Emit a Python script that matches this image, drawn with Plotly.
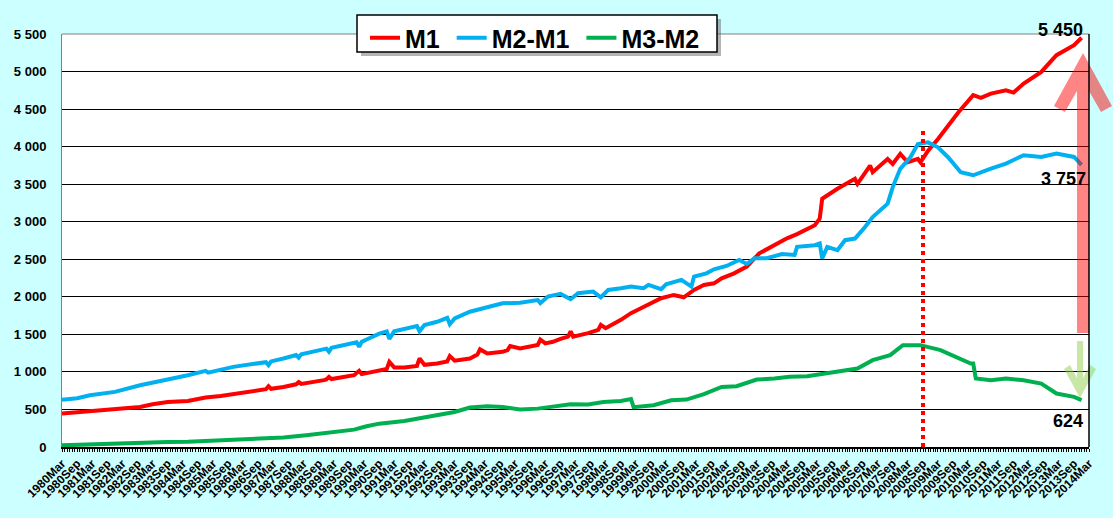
import plotly.graph_objects as go

# money aggregates (bn), values at selected months
m1_dates = ["1980-03", "1980-09", "1981-02", "1981-08", "1981-12", "1982-05", "1982-10",
            "1983-03", "1983-09", "1984-05", "1984-12", "1985-06", "1985-11", "1986-05",
            "1986-10", "1986-12", "1987-01", "1987-02", "1987-07", "1987-12", "1988-01",
            "1988-02", "1988-11", "1988-12", "1989-01", "1989-02", "1989-11", "1990-01",
            "1990-02", "1990-09", "1990-12", "1991-01", "1991-03", "1991-07", "1991-12",
            "1992-01", "1992-03", "1992-08", "1992-12", "1993-01", "1993-03", "1993-09",
            "1993-12", "1994-01", "1994-04", "1994-10", "1994-12", "1995-01", "1995-05",
            "1995-12", "1996-01", "1996-03", "1996-06", "1996-09", "1996-12", "1997-01",
            "1997-02", "1997-08", "1997-12", "1998-01", "1998-03", "1998-09", "1999-01",
            "1999-05", "1999-08", "2000-01", "2000-06", "2000-10", "2001-02", "2001-06",
            "2001-10", "2002-01", "2002-06", "2002-11", "2003-04", "2003-10", "2004-03",
            "2004-07", "2005-02", "2005-04", "2005-05", "2005-11", "2006-06", "2006-07",
            "2006-12", "2007-01", "2007-07", "2007-09", "2007-12", "2008-03", "2008-07",
            "2008-08", "2008-11", "2009-03", "2009-07", "2009-11", "2010-05", "2010-08",
            "2010-12", "2011-06", "2011-09", "2012-01", "2012-08", "2013-02", "2013-09",
            "2013-12"]
m1_values = [445, 462, 480, 490, 498, 512, 534,
             570, 600, 614, 660, 680, 703, 730,
             756, 770, 810, 775, 800, 835, 865,
             840, 890, 900, 934, 905, 956, 1014,
             970, 1020, 1040, 1134, 1060, 1059, 1080,
             1179, 1095, 1112, 1140, 1210, 1150, 1179,
             1230, 1300, 1245, 1268, 1290, 1345, 1312,
             1360, 1430, 1380, 1401, 1440, 1470, 1538,
             1470, 1516, 1560, 1627, 1582, 1693, 1782,
             1848, 1893, 1981, 2025, 1994, 2092, 2158,
             2180, 2247, 2313, 2402, 2579, 2690, 2779,
             2835, 2953, 3042, 3306, 3439, 3571, 3505,
             3748, 3660, 3836, 3770, 3903, 3792, 3836,
             3792, 3947, 4101, 4278, 4455, 4685, 4650,
             4707, 4751, 4720, 4840, 4996, 5218, 5351,
             5450]

m2m1_dates = ["1980-03", "1980-09", "1981-02", "1981-12", "1982-10", "1983-09", "1984-05",
              "1984-12", "1985-01", "1985-11", "1986-10", "1986-12", "1987-01", "1987-02",
              "1987-07", "1987-12", "1988-01", "1988-02", "1988-12", "1989-01", "1989-02",
              "1989-11", "1989-12", "1990-01", "1990-02", "1990-04", "1990-09", "1990-12",
              "1991-01", "1991-03", "1991-07", "1991-12", "1992-01", "1992-03", "1992-08",
              "1992-12", "1993-01", "1993-03", "1993-09", "1994-04", "1994-10", "1995-05",
              "1995-12", "1996-01", "1996-04", "1996-09", "1997-01", "1997-04", "1997-10",
              "1998-01", "1998-04", "1998-09", "1999-01", "1999-06", "1999-08", "2000-01",
              "2000-03", "2000-09", "2001-01", "2001-02", "2001-07", "2001-10", "2002-03",
              "2002-08", "2002-11", "2003-02", "2003-07", "2004-01", "2004-06", "2004-07",
              "2005-02", "2005-04", "2005-05", "2005-07", "2005-11", "2006-02", "2006-06",
              "2006-10", "2007-01", "2007-07", "2007-09", "2007-12", "2008-04", "2008-07",
              "2008-11", "2009-03", "2009-07", "2009-12", "2010-05", "2010-12", "2011-06",
              "2012-01", "2012-08", "2013-02", "2013-09", "2013-12"]
m2m1_values = [630, 650, 690, 734, 823, 898, 956,
               1014, 990, 1067, 1112, 1130, 1090, 1140,
               1179, 1225, 1190, 1235, 1310, 1270, 1320,
               1388, 1395, 1334, 1400, 1432, 1510, 1540,
               1440, 1540, 1566, 1610, 1540, 1624, 1668,
               1720, 1635, 1712, 1801, 1868, 1913, 1922,
               1957, 1915, 2003, 2039, 1968, 2048, 2070,
               1994, 2092, 2114, 2136, 2114, 2158, 2101,
               2167, 2225, 2136, 2269, 2313, 2366, 2411,
               2490, 2437, 2513, 2513, 2570, 2557, 2665,
               2687, 2710, 2511, 2665, 2621, 2754, 2776,
               2930, 3063, 3240, 3461, 3704, 3859, 4035,
               4057, 3991, 3859, 3660, 3619, 3708, 3775,
               3886, 3863, 3908, 3863, 3757]

m3m2_dates = ["1980-03", "1981-02", "1981-12", "1982-10", "1983-09", "1984-05", "1985-01",
              "1985-11", "1986-10", "1987-07", "1988-04", "1989-03", "1989-11", "1990-04",
              "1990-09", "1991-07", "1992-08", "1993-03", "1993-09", "1994-04", "1994-10",
              "1995-05", "1995-12", "1996-06", "1997-01", "1997-08", "1998-02", "1998-09",
              "1999-01", "1999-02", "1999-10", "2000-05", "2000-11", "2001-06", "2002-01",
              "2002-07", "2002-12", "2003-03", "2003-10", "2004-04", "2004-11", "2005-06",
              "2005-12", "2006-07", "2007-01", "2007-08", "2008-01", "2008-08", "2009-04",
              "2009-11", "2010-04", "2010-05", "2010-06", "2010-12", "2011-06", "2012-01",
              "2012-08", "2013-02", "2013-09", "2013-12"]
m3m2_values = [22, 36, 53, 53, 67, 71, 80,
               98, 107, 125, 156, 200, 231, 276,
               311, 347, 423, 467, 525, 543, 534,
               498, 511, 543, 569, 565, 600, 614,
               640, 530, 556, 623, 632, 703, 800,
               809, 858, 898, 912, 934, 943, 978,
               1000, 1045, 1156, 1223, 1356, 1356, 1290,
               1179, 1112, 1112, 912, 890, 912, 890,
               845, 712, 667, 624]

crisis_date = "2008-09"
crisis_top = 4250

FONT = "Arial, Liberation Sans, sans-serif"
W, H = 1113, 518
L, R, T, B = 62, 24, 34, 71


def px(x, y):
    # pixel position -> paper coords (for the decorations)
    return (x - L) / (W - L - R), (H - B - y) / (H - T - B)


def poly(points):
    pts = [px(x, y) for x, y in points]
    return "M " + " L ".join(f"{a:.4f},{b:.4f}" for a, b in pts) + " Z"


fig = go.Figure()
fig.add_trace(go.Scatter(x=m1_dates, y=m1_values, name="M1\u00a0", mode="lines",
                         line=dict(color="#FF0000", width=4)))
fig.add_trace(go.Scatter(x=m2m1_dates, y=m2m1_values, name="M2-M1\u00a0", mode="lines",
                         line=dict(color="#00B0F0", width=4)))
fig.add_trace(go.Scatter(x=m3m2_dates, y=m3m2_values, name="M3-M2", mode="lines",
                         line=dict(color="#00B050", width=4)))

# crisis marker
fig.add_shape(type="line", x0=crisis_date, x1=crisis_date, y0=0, y1=crisis_top,
              xref="x", yref="y", line=dict(color="#FF0000", width=4, dash="dot"))

# big arrows (up for M1, down for M3-M2)
xc = 1083
red_arrow = [(xc, 53), (xc + 29, 106), (xc + 18, 112), (xc + 6, 91), (xc + 6, 333),
             (xc - 6, 333), (xc - 6, 91), (xc - 18, 112), (xc - 29, 106)]
fig.add_shape(type="path", path=poly(red_arrow), xref="paper", yref="paper",
              fillcolor="rgba(255,0,0,0.48)", line=dict(width=0), layer="above")
xg = 1080
green_arrow = [(xg, 398), (xg + 16, 369), (xg + 10, 365), (xg + 3, 378), (xg + 3, 341),
               (xg - 3, 341), (xg - 3, 378), (xg - 10, 365), (xg - 16, 369)]
fig.add_shape(type="path", path=poly(green_arrow), xref="paper", yref="paper",
              fillcolor="rgba(146,208,80,0.5)", line=dict(width=0), layer="above")

# plot frame: grey top, black right
fig.add_shape(type="line", x0=0, x1=1, y0=1, y1=1, xref="paper", yref="paper",
              line=dict(color="#808080", width=1))
fig.add_shape(type="line", x0=1, x1=1, y0=0, y1=1, xref="paper", yref="paper",
              line=dict(color="#000000", width=1.5))

# legend box with drop shadow
bx0, by0 = px(361, 56)
bx1, by1 = px(721, 19)
fig.add_shape(type="rect", x0=bx0, x1=bx1, y0=by0, y1=by1, xref="paper", yref="paper",
              fillcolor="rgba(90,90,90,0.45)", line=dict(width=0), layer="above")
bx0, by0 = px(357, 52)
bx1, by1 = px(717, 15)
fig.add_shape(type="rect", x0=bx0, x1=bx1, y0=by0, y1=by1, xref="paper", yref="paper",
              fillcolor="#FFFFFF", line=dict(color="#000000", width=1.5), layer="above")

last = m1_dates[-1]
lab = dict(font=dict(family=FONT, size=18, color="#000000", weight="bold"),
           showarrow=False, xref="x", yref="y", xanchor="right")
fig.add_annotation(x=last, y=m1_values[-1], text="5 450", yanchor="bottom",
                   xshift=3, yshift=-4, **lab)
fig.add_annotation(x=last, y=m2m1_values[-1], text="3 757", yanchor="top",
                   xshift=6, yshift=-2, **lab)
fig.add_annotation(x=last, y=m3m2_values[-1], text="624", yanchor="top",
                   xshift=3, yshift=-9, **lab)

lx, ly = px(365, 15)
fig.update_layout(
    width=W, height=H,
    margin=dict(l=L, r=R, t=T, b=B, autoexpand=False),
    paper_bgcolor="#CCFFFF",
    plot_bgcolor="#FFFFFF",
    separators=". ",
    font=dict(family=FONT, color="#000000"),
    legend=dict(orientation="h", x=lx, y=ly, xanchor="left", yanchor="top",
                bgcolor="rgba(0,0,0,0)", borderwidth=0,
                font=dict(family=FONT, size=25, weight="bold"),
                itemwidth=30, tracegroupgap=0),
)
fig.update_xaxes(
    type="date", range=["1980-03-01", "2014-03-01"],
    tick0="1980-03-01", dtick="M6", tickformat="%Y%b", tickangle=-45,
    tickfont=dict(family=FONT, size=12, weight="bold"),
    ticks="outside", ticklen=3, tickcolor="#000000",
    minor=dict(dtick="M1", ticks="outside", ticklen=3, tickcolor="#000000"),
    showgrid=False, showline=True, linecolor="#000000", linewidth=1.5,
)
fig.update_yaxes(
    range=[0, 5500], dtick=500, tickformat=",d",
    tickfont=dict(family=FONT, size=13, weight="bold"),
    ticklabelstandoff=12,
    showgrid=True, gridcolor="#000000", gridwidth=1,
    showline=True, linecolor="#808080", linewidth=1,
    zeroline=False, ticks="",
)

# page margin off so the figure sits at the window corner
fig.write_html("out.html", config={"displayModeBar": False}, post_script=(
    "document.body.style.margin='0';"
    "document.body.style.overflow='hidden';"
    "document.body.style.background='#CCFFFF';"))
